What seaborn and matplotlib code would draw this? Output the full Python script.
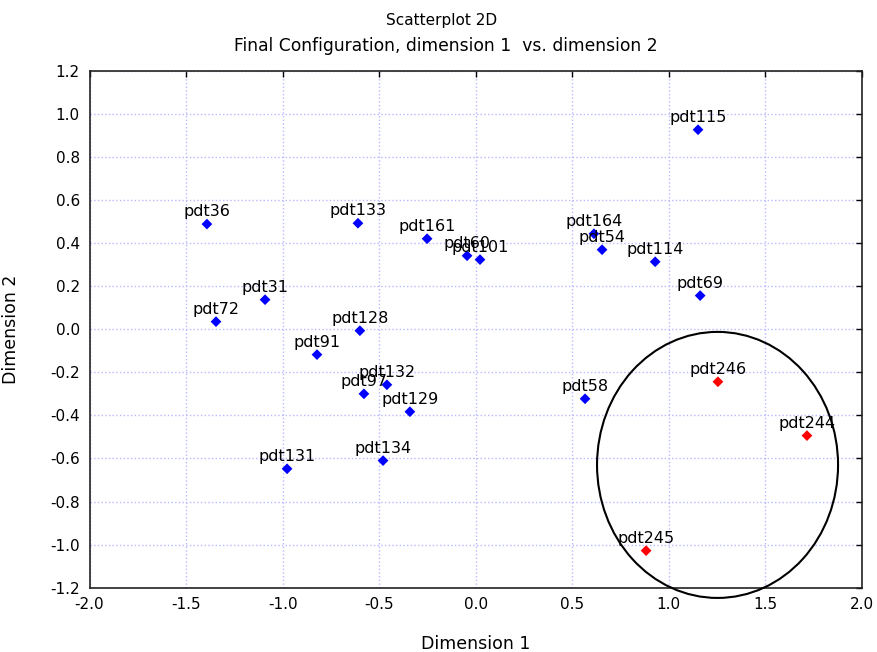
import pandas as pd
import numpy as np
import matplotlib.pyplot as plt
import seaborn as sns
from matplotlib.patches import Ellipse

labels = ["pdt115", "pdt36", "pdt133", "pdt161", "pdt60", "pdt101", "pdt164", "pdt54",
          "pdt114", "pdt69", "pdt31", "pdt72", "pdt128", "pdt91", "pdt132", "pdt97",
          "pdt129", "pdt58", "pdt134", "pdt131", "pdt246", "pdt244", "pdt245"]
dim1 = [1.151, -1.392, -0.610, -0.252, -0.045, 0.022, 0.612, 0.654,
        0.929, 1.162, -1.091, -1.345, -0.600, -0.822, -0.460, -0.579,
        -0.341, 0.566, -0.480, -0.977, 1.254, 1.715, 0.882]
dim2 = [0.926, 0.488, 0.492, 0.420, 0.341, 0.323, 0.443, 0.369,
        0.313, 0.156, 0.137, 0.035, -0.007, -0.118, -0.258, -0.300,
        -0.383, -0.323, -0.610, -0.648, -0.244, -0.494, -1.028]
group = ["other"] * 20 + ["highlight"] * 3

xticks = [-2.0, -1.5, -1.0, -0.5, 0.0, 0.5, 1.0, 1.5, 2.0]
yticks = [-1.2, -1.0, -0.8, -0.6, -0.4, -0.2, 0.0, 0.2, 0.4, 0.6, 0.8, 1.0, 1.2]

df = pd.DataFrame({"label": labels, "Dimension 1": dim1, "Dimension 2": dim2, "group": group})

sns.set_style("white")
plt.rcParams['font.family'] = ['DejaVu Sans']
plt.rcParams['text.color'] = 'black'
plt.rcParams['axes.labelcolor'] = 'black'

fig = plt.figure(figsize=(8.77, 6.52), dpi=100)
ax = fig.add_axes([89.5 / 877, 1 - 587.7 / 652, (862 - 89.5) / 877, (587.7 - 70.7) / 652])

sns.scatterplot(data=df, x="Dimension 1", y="Dimension 2", hue="group",
                palette={"other": "#0000ff", "highlight": "#ff0000"},
                marker="D", s=30, linewidth=0, legend=False, ax=ax, zorder=3)

for lab, x, y in zip(labels, dim1, dim2):
    ax.annotate(lab, (x, y), xytext=(0, 3.5), textcoords="offset points",
                ha="center", va="bottom", fontsize=11.5, color="black", zorder=4)

ax.add_patch(Ellipse((1.252, -0.630), 1.248, 1.235, fill=False, edgecolor="black",
                     linewidth=1.5, clip_on=False, zorder=5))

ax.set_xlim(-2.0, 2.0)
ax.set_ylim(-1.2, 1.2)
ax.set_xticks(xticks)
ax.set_yticks(yticks)
ax.set_xticklabels([f"{v:.1f}" for v in xticks])
ax.set_yticklabels([f"{v:.1f}" for v in yticks])
ax.tick_params(direction="in", top=True, right=True, length=4, width=1,
               labelsize=11, colors="black", pad=7)
ax.grid(True, linestyle=":", color="#b8b8ff", linewidth=1)
for sp in ax.spines.values():
    sp.set_color("#222222")
    sp.set_linewidth(1.2)

ax.set_xlabel("Dimension 1", fontsize=12.5, labelpad=16)
ax.set_ylabel("Dimension 2", fontsize=12.5)
ax.yaxis.set_label_coords((20 - 89.5) / (862 - 89.5), 0.5)

fig.text(0.503, 1 - 20 / 652, "Scatterplot 2D", ha="center", va="center", fontsize=11)
fig.text(0.508, 1 - 46 / 652, "Final Configuration, dimension 1  vs. dimension 2",
         ha="center", va="center", fontsize=12.3)

fig.savefig("out.png", dpi=100)
